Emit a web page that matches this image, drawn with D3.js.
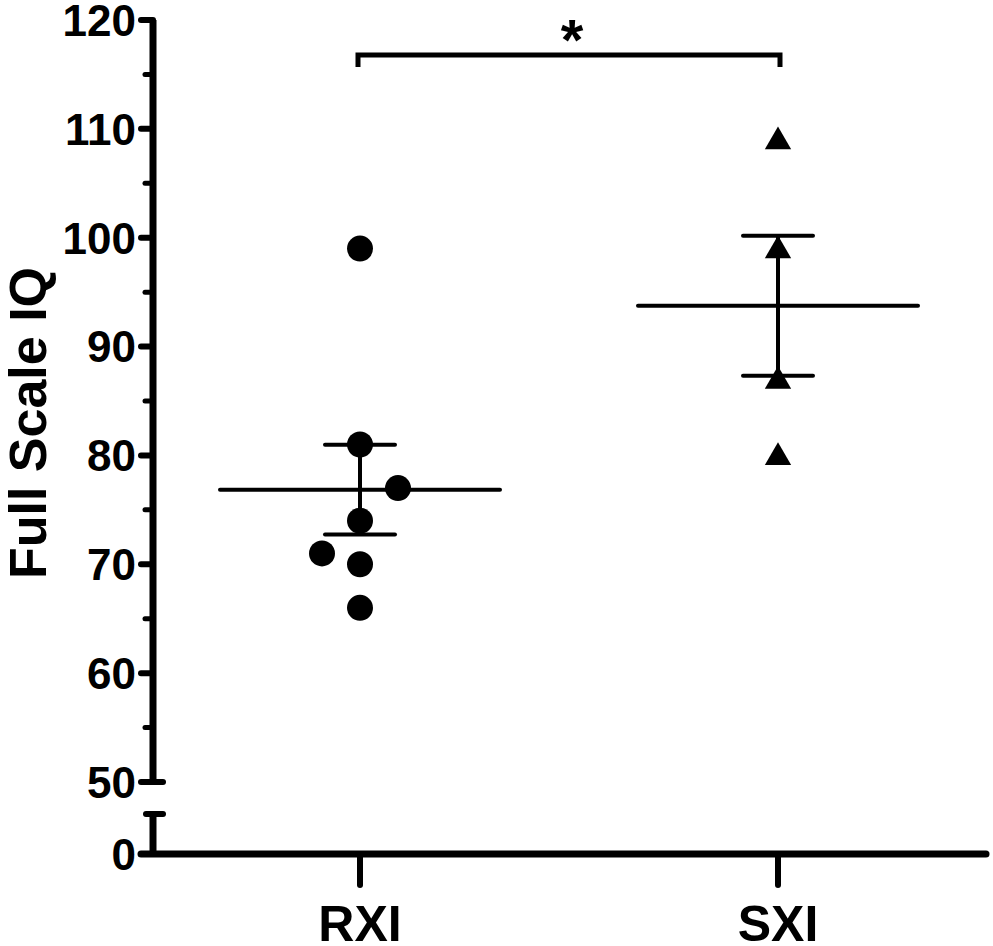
<!DOCTYPE html>
<html>
<head>
<meta charset="utf-8">
<script src="https://cdn.jsdelivr.net/npm/d3@7"></script>
<style>
  body { margin: 0; background: #fff; }
  svg text { font-family: Arial, "Liberation Sans", sans-serif; font-weight: bold; fill: #000; }
</style>
</head>
<body>
<div id="chart"></div>
<script>
// groups and IQ values
let groups = ["RXI", "SXI"];
let rxiValues = [99, 81, 77, 74, 71, 70, 66];
let rxiOffsets = [0, 0, 1, 0, -1, 0, 0];   // horizontal jitter, in marker widths
let sxiValues = [109, 99, 87, 80];
let sxiOffsets = [0, 0, 0, 0];
let yTicks = [50, 60, 70, 80, 90, 100, 110, 120];
let yMinorTicks = [55, 65, 75, 85, 95, 105, 115];

var width = 993, height = 946;

var svg = d3.select('#chart')
    .append('svg')
    .attr('width', width)
    .attr('height', height);

var axisX = 153;

let x = d3.scalePoint()
    .domain(groups)
    .range([151, 987])
    .padding(0.5);

let y = d3.scaleLinear()
    .domain([50, 120])
    .range([782, 20]);

// lower segment below the break, only 0 is shown
let yLow = d3.scaleLinear()
    .domain([0, 4])
    .range([854, 814]);

var black = '#000';

// y axis, upper segment
var yAxis = svg.append('g').attr('id', 'y-axis');

yAxis.append('line')
    .attr('x1', axisX).attr('x2', axisX)
    .attr('y1', y(120)).attr('y2', y(50))
    .attr('stroke', black).attr('stroke-width', 7);

yAxis.selectAll('.major')
    .data(yTicks)
    .enter()
    .append('line')
    .attr('class', 'major')
    .attr('x1', 141)
    .attr('x2', function (d) { return d == 50 ? 163 : axisX; })
    .attr('y1', function (d) { return y(d); })
    .attr('y2', function (d) { return y(d); })
    .attr('stroke', black).attr('stroke-width', 6)
    .attr('stroke-linecap', 'round');

yAxis.selectAll('.minor')
    .data(yMinorTicks)
    .enter()
    .append('line')
    .attr('class', 'minor')
    .attr('x1', 145).attr('x2', axisX)
    .attr('y1', function (d) { return y(d); })
    .attr('y2', function (d) { return y(d); })
    .attr('stroke', black).attr('stroke-width', 5)
    .attr('stroke-linecap', 'round');

yAxis.selectAll('.tick-label')
    .data(yTicks)
    .enter()
    .append('text')
    .attr('class', 'tick-label')
    .attr('x', 136)
    .attr('y', function (d) { return y(d); })
    .attr('dy', '0.36em')
    .attr('text-anchor', 'end')
    .style('font-size', '44px')
    .text(function (d) { return d; });

// y axis, lower segment
yAxis.append('line')
    .attr('x1', axisX).attr('x2', axisX)
    .attr('y1', yLow(4)).attr('y2', yLow(0))
    .attr('stroke', black).attr('stroke-width', 7);

yAxis.append('line')
    .attr('x1', 146).attr('x2', 163)
    .attr('y1', yLow(4)).attr('y2', yLow(4))
    .attr('stroke', black).attr('stroke-width', 6)
    .attr('stroke-linecap', 'round');

yAxis.append('line')
    .attr('x1', 141).attr('x2', axisX)
    .attr('y1', yLow(0)).attr('y2', yLow(0))
    .attr('stroke', black).attr('stroke-width', 6)
    .attr('stroke-linecap', 'round');

yAxis.append('text')
    .attr('x', 136)
    .attr('y', yLow(0))
    .attr('dy', '0.36em')
    .attr('text-anchor', 'end')
    .style('font-size', '44px')
    .text(0);

svg.append('text')
    .attr('transform', 'translate(46,423) rotate(-90)')
    .attr('text-anchor', 'middle')
    .style('font-size', '52px')
    .text('Full Scale IQ');

// x axis
var xAxis = svg.append('g').attr('id', 'x-axis');

xAxis.append('line')
    .attr('x1', 141).attr('x2', 986)
    .attr('y1', yLow(0)).attr('y2', yLow(0))
    .attr('stroke', black).attr('stroke-width', 7)
    .attr('stroke-linecap', 'round');

xAxis.selectAll('.xtick')
    .data(groups)
    .enter()
    .append('line')
    .attr('class', 'xtick')
    .attr('x1', function (d) { return x(d); })
    .attr('x2', function (d) { return x(d); })
    .attr('y1', yLow(0)).attr('y2', 885)
    .attr('stroke', black).attr('stroke-width', 6)
    .attr('stroke-linecap', 'round');

xAxis.selectAll('.xlabel')
    .data(groups)
    .enter()
    .append('text')
    .attr('class', 'xlabel')
    .attr('x', function (d) { return x(d); })
    .attr('y', 941)
    .attr('text-anchor', 'middle')
    .style('font-size', '50px')
    .text(function (d) { return d; });

// points
var markerSize = 26;

svg.append('g')
    .selectAll('circle')
    .data(rxiValues)
    .enter()
    .append('circle')
    .attr('cx', function (d, i) { return x('RXI') + rxiOffsets[i] * 38; })
    .attr('cy', function (d) { return y(d); })
    .attr('r', markerSize / 2)
    .attr('fill', black);

var tri = d3.symbol().type(d3.symbolTriangle).size(300);

svg.append('g')
    .selectAll('path')
    .data(sxiValues)
    .enter()
    .append('path')
    .attr('d', tri)
    .attr('transform', function (d, i) {
        return 'translate(' + (x('SXI') + sxiOffsets[i] * 38) + ',' + (y(d) + 2) + ')';
    })
    .attr('fill', black);

// mean and SEM for each group
var stats = groups.map(function (g) {
    var vals = g == 'RXI' ? rxiValues : sxiValues;
    var m = d3.mean(vals);
    var sem = d3.deviation(vals) / Math.sqrt(vals.length);
    return { group: g, mean: m, lo: m - sem, hi: m + sem };
});

var statLayer = svg.append('g').attr('id', 'stats');

statLayer.selectAll('.mean')
    .data(stats)
    .enter()
    .append('line')
    .attr('x1', function (d) { return x(d.group) - 140; })
    .attr('x2', function (d) { return x(d.group) + 140; })
    .attr('y1', function (d) { return y(d.mean); })
    .attr('y2', function (d) { return y(d.mean); })
    .attr('stroke', black).attr('stroke-width', 4)
    .attr('stroke-linecap', 'round');

statLayer.selectAll('.err')
    .data(stats)
    .enter()
    .append('line')
    .attr('x1', function (d) { return x(d.group); })
    .attr('x2', function (d) { return x(d.group); })
    .attr('y1', function (d) { return y(d.hi); })
    .attr('y2', function (d) { return y(d.lo); })
    .attr('stroke', black).attr('stroke-width', 4);

['hi', 'lo'].forEach(function (k) {
    statLayer.selectAll('.cap-' + k)
        .data(stats)
        .enter()
        .append('line')
        .attr('x1', function (d) { return x(d.group) - 35; })
        .attr('x2', function (d) { return x(d.group) + 35; })
        .attr('y1', function (d) { return y(d[k]); })
        .attr('y2', function (d) { return y(d[k]); })
        .attr('stroke', black).attr('stroke-width', 4)
        .attr('stroke-linecap', 'round');
});

// significance bracket
var bracketY = 55;
svg.append('path')
    .attr('d', 'M' + (x('RXI') - 2) + ',' + (bracketY + 12) +
        'V' + bracketY + 'H' + (x('SXI') + 2) + 'V' + (bracketY + 12))
    .attr('fill', 'none')
    .attr('stroke', black).attr('stroke-width', 5);

svg.append('text')
    .attr('x', (x('RXI') + x('SXI')) / 2 + 3)
    .attr('y', 60)
    .attr('text-anchor', 'middle')
    .style('font-size', '58px')
    .text('*');
</script>
</body>
</html>
